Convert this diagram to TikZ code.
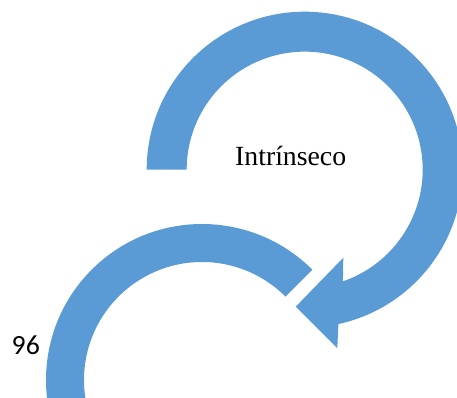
\documentclass[tikz,border=0pt]{standalone}
\usepackage{fontspec}
\usetikzlibrary{calc}
\setmainfont{Liberation Serif}
\newfontfamily\calibrifont{Carlito}
\definecolor{officeblue}{HTML}{5B9BD5}
\begin{document}
\begin{tikzpicture}[x=1pt,y=1pt,
  band/.style={fill=officeblue,draw=none},
  label/.style={inner sep=0pt,anchor=base west,text=black}]
\useasboundingbox (0,0) rectangle (457,398);
\clip (0,0) rectangle (457,398);
% upper curved arrow
\fill[band] (146.7,228.3) arc[start angle=180,end angle=-77.7,radius=158]
  -- (337.3,49.7) -- (295.7,91.3) -- (343.3,140.3) -- (342.9,116.7)
  arc[start angle=-71.1,end angle=180,radius=118] -- cycle;
% lower arc
\fill[band] ($(202,18)+(45:156)$) arc[start angle=45,end angle=260,radius=156]
  -- ($(202,18)+(260:118)$) arc[start angle=260,end angle=45,radius=118] -- cycle;
\node[label] (intr) at (235,232) {\fontsize{27.75}{33}\selectfont Intrínseco};
\node[label] (num) at (11.5,43) {\calibrifont\fontsize{27.75}{33}\selectfont 96};
\end{tikzpicture}
\end{document}
